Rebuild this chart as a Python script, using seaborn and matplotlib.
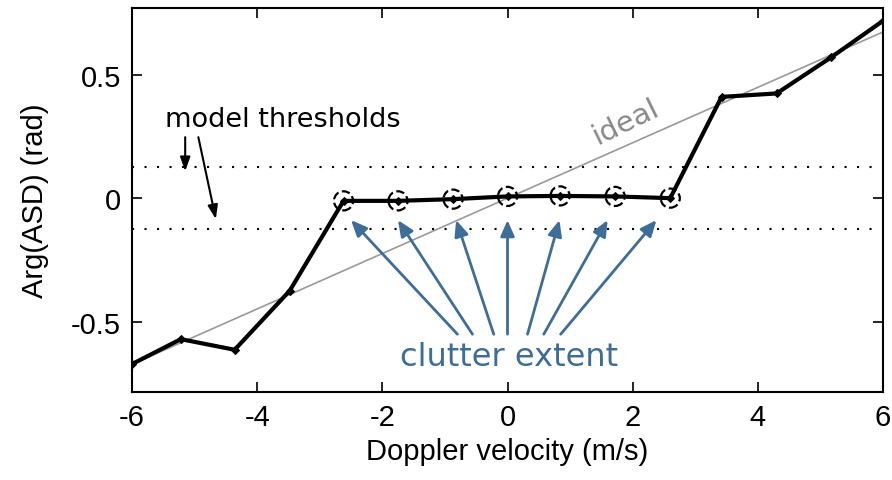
import matplotlib
matplotlib.use("Agg")
import matplotlib.pyplot as plt
import seaborn as sns
import pandas as pd

# measured phase curve
velocity = [-6.0, -5.22, -4.36, -3.48, -2.62, -1.75, -0.87, 0.0, 0.84, 1.72, 2.6, 3.42, 4.3, 5.17, 6.0]
arg_asd = [-0.672, -0.571, -0.614, -0.375, -0.011, -0.011, -0.004, 0.007, 0.009, 0.007, 0.0, 0.41, 0.424, 0.57, 0.718]

# ideal phase line
ideal_v = [-6.0, 6.0]
ideal_arg = [-0.673, 0.673]

# clutter points (circled)
clutter_v = [-2.62, -1.75, -0.87, 0.0, 0.84, 1.72, 2.6]
clutter_arg = [-0.011, -0.011, -0.004, 0.007, 0.009, 0.007, 0.0]

thresholds = [0.125, -0.125]

# arrows from "clutter extent" label to the circled points
arrow_tip_v = [-2.50, -1.75, -0.82, 0.0, 0.83, 1.60, 2.38]
arrow_tail_v = [-0.80, -0.56, -0.22, 0.0, 0.32, 0.58, 0.85]
arrow_tip_arg = -0.089
arrow_tail_arg = -0.551

sns.set_theme(style="white")
plt.rcParams["font.family"] = ["Liberation Sans", "DejaVu Sans"]
plt.rcParams["axes.unicode_minus"] = False

df = pd.DataFrame({"v": velocity, "arg": arg_asd})
df_ideal = pd.DataFrame({"v": ideal_v, "arg": ideal_arg})
df_clut = pd.DataFrame({"v": clutter_v, "arg": clutter_arg})

fig = plt.figure(figsize=(8.92, 4.81), dpi=100)
ax = fig.add_axes([132 / 892, 88 / 481, 751 / 892, 384 / 481])

for t in thresholds:
    ax.axhline(t, color="black", lw=1.5, linestyle=(0, (1, 5)), zorder=1)

sns.lineplot(data=df_ideal, x="v", y="arg", ax=ax, color="#999999", lw=1.2, zorder=2)
sns.lineplot(data=df, x="v", y="arg", ax=ax, color="black", lw=3,
             marker="D", markersize=4.5, markeredgecolor="black", zorder=3)
sns.scatterplot(data=df_clut, x="v", y="arg", ax=ax, s=190, facecolor="none",
                edgecolor="black", linewidth=1.6, linestyle="--", zorder=4)

ax.set_xlim(-6, 6)
ax.set_ylim(-0.785, 0.77)
ax.set_xticks([-6, -4, -2, 0, 2, 4, 6])
ax.set_yticks([-0.5, 0, 0.5])
ax.set_yticklabels(["-0.5", "0", "0.5"])
ax.tick_params(direction="in", length=7, width=1.2, labelsize=21, colors="black",
               top=True, right=True, bottom=True, left=True, pad=8)
for sp in ax.spines.values():
    sp.set_color("black")
    sp.set_linewidth(1.5)
ax.set_xlabel("Doppler velocity (m/s)", fontsize=21, color="black", labelpad=4)
ax.set_ylabel("Arg(ASD) (rad)", fontsize=21, color="black", labelpad=16)

blue = "#3e6d99"
for tip, tail in zip(arrow_tip_v, arrow_tail_v):
    ax.annotate("", xy=(tip, arrow_tip_arg), xytext=(tail, arrow_tail_arg),
                arrowprops=dict(arrowstyle="-|>,head_length=0.8,head_width=0.35",
                                color=blue, lw=2, shrinkA=0, shrinkB=0))
ax.text(0.02, -0.64, "clutter extent", color=blue, fontsize=23,
        family="DejaVu Sans", ha="center", va="center")

ax.text(-5.48, 0.32, "model thresholds", color="black", fontsize=19.5,
        family="DejaVu Sans", ha="left", va="center")
ax.annotate("", xy=(-5.15, 0.109), xytext=(-5.15, 0.247),
            arrowprops=dict(arrowstyle="-|>,head_length=0.7,head_width=0.25",
                            color="black", lw=1.5, shrinkA=0, shrinkB=0))
ax.annotate("", xy=(-4.66, -0.085), xytext=(-4.94, 0.247),
            arrowprops=dict(arrowstyle="-|>,head_length=0.7,head_width=0.25",
                            color="black", lw=1.5, shrinkA=0, shrinkB=0))

ax.text(1.89, 0.31, "ideal", color="#888888", fontsize=21, family="DejaVu Sans",
        rotation=26, ha="center", va="center")

fig.savefig("out.png", dpi=100)
